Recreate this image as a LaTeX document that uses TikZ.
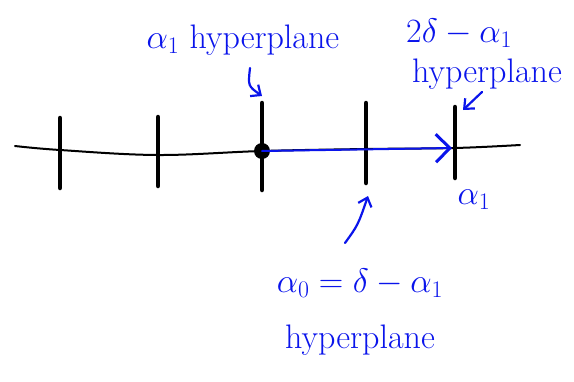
\RequirePackage{fix-cm}
\documentclass[tikz,border=0pt]{standalone}
\usepackage{tikz}
\usetikzlibrary{positioning, arrows.meta}
\definecolor{penblue}{RGB}{10, 20, 235}

\begin{document}
\begin{tikzpicture}[x=1pt, y=-1pt,
                axisline/.style={line width=2pt, black, line cap=round},
                tickmark/.style={line width=4.5pt, black, line cap=round},
                inklabel/.style={text=penblue, font=\fontsize{34}{38}\selectfont, align=center, inner sep=0pt},
                inkarrow/.style={draw=penblue, line width=2.2pt, line cap=round, -{Straight Barb[length=8pt, width=14pt]}}
            ]
            \useasboundingbox (0,0) rectangle (574,381);

            % axis
            \draw[axisline] plot[smooth, tension=0.6] coordinates {(15,146) (60,150) (158,155) (262,151) (366,149) (455,148) (520,145)};

            % hyperplane ticks
            \foreach \n/\x/\top/\bot in {1/60/118/188, 2/158/117/186, 3/262/103/190, 4/366/103/183, 5/455/107/178} {
                \coordinate (top\n) at (\x,\top);
                \coordinate (bot\n) at (\x,\bot);
                \draw[tickmark] (top\n) -- (bot\n);
            }

            % start point and step
            \coordinate (start) at (262,151);
            \coordinate (stop) at (452,148);
            \fill (start) circle (8pt);
            \draw[inkarrow, line width=2pt, -{Straight Barb[length=14pt, width=28pt, line width=3pt]}] (start) -- (stop);

            % alpha_1 hyperplane
            \node[inklabel] (lblone) at (243,40) {$\alpha_1$ hyperplane};
            \coordinate (hookend) at (262,96);
            \draw[inkarrow] (250,68) .. controls (248,86) .. (hookend);

            % 2delta - alpha_1 hyperplane
            \node[inklabel, anchor=west, align=left] (lbltwo) at (406,54) {$2\delta-\alpha_1$\\[2pt] \hspace*{6pt}hyperplane};
            \coordinate (twoend) at (463,110);
            \draw[inkarrow] (482,92) -- (twoend);

            % alpha_1 root
            \node[inklabel] (root) at (474,200) {$\alpha_1$};

            % alpha_0 hyperplane
            \node[inklabel] (lblzero) at (360,312) {$\alpha_0=\delta-\alpha_1$\\[18pt] hyperplane};
            \coordinate (zeroend) at (368,196);
            \draw[inkarrow] (345,243) .. controls (358,225) .. (zeroend);

\end{tikzpicture}
\end{document}
